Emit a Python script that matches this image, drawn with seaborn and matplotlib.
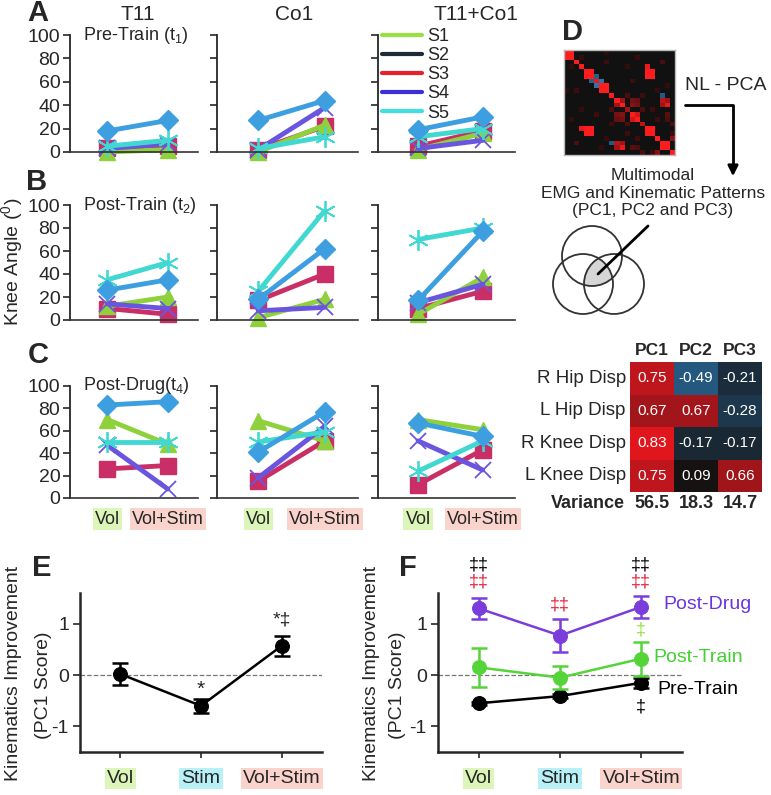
import numpy as np
import pandas as pd
import matplotlib
matplotlib.use('Agg')
import matplotlib.pyplot as plt
import seaborn as sns
from matplotlib.colors import LinearSegmentedColormap
from matplotlib.lines import Line2D
from matplotlib.patches import Circle

sns.set_style('ticks')
plt.rcParams['font.family'] = ['Liberation Sans', 'DejaVu Sans']
plt.rcParams['mathtext.default'] = 'regular'

W, H = 771, 795

subjects = ['S1', 'S2', 'S3', 'S4', 'S5']
sites = ['T11', 'Co1', 'T11+Co1']
conditions = ['Vol', 'Vol+Stim']
conditions3 = ['Vol', 'Stim', 'Vol+Stim']

# knee angle (deg); rows S1..S5, columns Vol / Vol+Stim
pre_t11 = [[0, 2], [18, 27], [3, 5], [3, 7], [5, 10]]
pre_co1 = [[0, 23], [27, 44], [2, 22], [2, 38], [3, 13]]
pre_both = [[2, 16], [19, 30], [5, 18], [3, 10], [13, 20]]
post_t11 = [[12, 20], [26, 35], [10, 5], [14, 10], [35, 50]]
post_co1 = [[2, 18], [18, 62], [17, 40], [8, 11], [25, 95]]
post_both = [[5, 37], [17, 77], [10, 25], [15, 31], [70, 80]]
drug_t11 = [[70, 48], [83, 86], [26, 29], [47, 8], [50, 50]]
drug_co1 = [[69, 51], [41, 77], [15, 51], [18, 64], [50, 59]]
drug_both = [[70, 61], [67, 55], [12, 43], [51, 25], [24, 51]]

# PC1 scores (panel E)
e_mean = [0.02, -0.60, 0.57]
e_err = [0.21, 0.13, 0.20]
# PC1 scores (panel F)
drug_mean = [1.30, 0.77, 1.33]
drug_err = [0.20, 0.32, 0.22]
train_mean = [0.15, -0.05, 0.32]
train_err = [0.38, 0.23, 0.33]
pretr_mean = [-0.55, -0.41, -0.15]
pretr_err = [0.03, 0.04, 0.10]

# PCA loadings table
joints = ['R Hip Disp', 'L Hip Disp', 'R Knee Disp', 'L Knee Disp']
pcs = ['PC1', 'PC2', 'PC3']
loadings = [[0.75, -0.49, -0.21],
            [0.67, 0.67, -0.28],
            [0.83, -0.17, -0.17],
            [0.75, 0.09, 0.66]]
variance = [56.5, 18.3, 14.7]

# correlation matrix thumbnail (22 x 22): diagonal + symmetric pairs
corr_diag = [1, 1, 1, 1, 1, 1, 0.9, 1, 1, 1, 1, 1, 0.6, 1, 1, 0.7, 1, 1, 1, 1, 1, 1]
corr_pairs = [(0, 1, 1.0), (4, 5, 1.0), (7, 8, 1.0), (16, 17, 1.0), (19, 20, 1.0),
              (4, 16, 1.0), (4, 17, 1.0), (5, 16, 1.0), (5, 17, 1.0), (3, 16, 0.9),
              (5, 6, -0.45), (6, 7, -0.6), (9, 19, -0.4), (10, 11, 0.6), (13, 14, 0.8),
              (10, 13, 0.45), (10, 14, 0.4), (11, 13, 0.5), (11, 14, 0.45),
              (10, 19, 0.7), (10, 20, 0.6), (11, 19, 0.6), (11, 20, 0.9),
              (13, 20, 0.35), (14, 20, 0.3), (12, 15, 0.3), (2, 8, 0.25), (3, 12, 0.2),
              (9, 15, 0.25), (1, 14, 0.2), (12, 17, 0.25), (0, 8, 0.15), (15, 21, 0.3),
              (6, 13, 0.25), (7, 20, 0.2), (2, 19, 0.3), (8, 18, 0.2), (14, 18, 0.25),
              (18, 21, 0.5), (9, 12, 0.3), (1, 3, 0.2), (17, 21, 0.25)]

subj_colors = ['#8fd13c', '#3d9ee0', '#c92f66', '#6a55e0', '#42d8d2']
legend_colors = ['#99e044', '#1e2a38', '#e8202c', '#3a2fd8', '#3fe0e0']
subj_markers = ['^', 'D', 's', 'x', (6, 2, 0)]
subj_ms = [11, 10, 11, 11, 15]
draw_order = [2, 0, 3, 4, 1]

fig = plt.figure(figsize=(W / 100, H / 100), dpi=100)


def px_axes(x0, y0, x1, y1):
    return fig.add_axes([x0 / W, 1 - y1 / H, (x1 - x0) / W, (y1 - y0) / H])


# overlay for panel D drawing and free text
axO = px_axes(0, 0, W, H)
axO.set_xlim(0, W)
axO.set_ylim(H, 0)
axO.axis('off')

sessions = [(pre_t11, pre_co1, pre_both),
            (post_t11, post_co1, post_both),
            (drug_t11, drug_co1, drug_both)]
row_px = [(35, 152), (205, 320), (386, 498)]
col_px = [(70, 198), (217, 358), (378, 515)]
tag_text = ['Pre-Train (t$_1$)', 'Post-Train (t$_2$)', 'Post-Drug(t$_4$)']
cond_bg = {'Vol': '#dcf5b8', 'Stim': '#b8f0f8', 'Vol+Stim': '#fad4cc'}

for r, (sess, (y0, y1)) in enumerate(zip(sessions, row_px)):
    for c, (data, (x0, x1)) in enumerate(zip(sess, col_px)):
        ax = px_axes(x0, y0, x1, y1)
        ax.patch.set_alpha(0)
        for k in draw_order:
            filled = subj_markers[k] != 'x' and not isinstance(subj_markers[k], tuple)
            sns.lineplot(x=[0, 1], y=data[k], ax=ax, color=subj_colors[k],
                         marker=subj_markers[k], markersize=subj_ms[k],
                         markeredgecolor=subj_colors[k],
                         markeredgewidth=1.0 if filled else 1.3,
                         linewidth=3.5, clip_on=False)
        ax.set_xlim(-0.62, 1.5)
        ax.set_ylim(0, 100)
        ax.set_yticks(range(0, 101, 20))
        ax.set_xlabel('')
        ax.set_ylabel('')
        ax.spines[['top', 'right']].set_visible(False)
        ax.spines['left'].set_linewidth(1.3)
        ax.spines['bottom'].set_linewidth(1.2)
        ax.spines['bottom'].set_color('#333333')
        ax.tick_params(axis='y', length=5, width=1.2, labelsize=14, pad=2)
        if c > 0:
            ax.set_yticklabels([])
        if r == 2:
            ax.set_xticks([0, 1])
            ax.set_xticklabels(conditions, fontsize=13)
            ax.tick_params(axis='x', length=0, pad=9)
            for t in ax.get_xticklabels():
                t.set_bbox(dict(facecolor=cond_bg[t.get_text()], edgecolor='none', pad=1.5))
        else:
            ax.set_xticks([])
        if c == 0:
            ax.text(0.1, 1.0, tag_text[r], transform=ax.transAxes, fontsize=13,
                    ha='left', va='center')

# legend in the T11+Co1 column
handles = [Line2D([0], [0], color=col, lw=3) for col in legend_colors]
fig.legend(handles, subjects, loc='upper left', bbox_to_anchor=(382 / W, 1 - 28 / H),
           frameon=False, fontsize=13, handlelength=2.2, handletextpad=0.3,
           labelspacing=0.12, borderpad=0, borderaxespad=0)

for name, x in zip(sites, [138, 294, 476]):
    axO.text(x, 15, name, fontsize=15, ha='center', va='center')
axO.text(12, 262, 'Knee Angle ($^0$)', rotation=90, fontsize=14, ha='center', va='center')

for lab, (x, y) in zip('ABCDEF', [(38, 13), (37, 182), (38, 355), (573, 32), (42, 568), (408, 568)]):
    axO.text(x, y, lab, fontsize=21, fontweight='bold', ha='center', va='center')

# y labels of panels E and F
for x_main, x_sub in [(14, 44), (372, 397)]:
    axO.text(x_main, 673, 'Kinematics Improvement', rotation=90, fontsize=14,
             ha='center', va='center')
    axO.text(x_sub, 685, '(PC1 Score)', rotation=90, fontsize=14,
             ha='center', va='center')

# panel D: correlation thumbnail
corr = np.diag(np.array(corr_diag, dtype=float))
for i, j, v in corr_pairs:
    corr[i, j] = v
    corr[j, i] = v
corr_cmap = LinearSegmentedColormap.from_list(
    'corr', [(0.0, '#4aa8f0'), (0.3, '#24587f'), (0.5, '#111111'),
             (0.62, '#3a0c0c'), (0.8, '#a01418'), (1.0, '#ff1c1c')])
axM = px_axes(564, 50, 675, 155)
sns.heatmap(corr, ax=axM, cmap=corr_cmap, vmin=-1, vmax=1, cbar=False,
            xticklabels=False, yticklabels=False)
for s in axM.spines.values():
    s.set_visible(True)
    s.set_color('#bbbbbb')
    s.set_linewidth(1)

axO.text(685, 86, 'NL - PCA', fontsize=14, ha='left', va='center')
axO.plot([685, 733, 733], [105, 105, 168], color='k', lw=2)
axO.annotate('', xy=(733, 179), xytext=(733, 164),
             arrowprops=dict(arrowstyle='-|>', color='k', lw=2, mutation_scale=15))
axO.text(653, 193, 'Multimodal\nEMG and Kinematic Patterns\n(PC1, PC2 and PC3)',
         fontsize=12.5, ha='center', va='center', linespacing=1.25)

# Venn sketch
centres = [(592, 256), (583, 284), (614, 284)]
rad = 30
gx, gy = np.meshgrid(np.linspace(540, 660, 300), np.linspace(220, 330, 300))
inside = np.ones_like(gx, dtype=bool)
for cx, cy in centres:
    inside &= (gx - cx) ** 2 + (gy - cy) ** 2 <= rad ** 2
axO.contourf(gx, gy, inside.astype(float), levels=[0.5, 1.5], colors=['#d6d6d6'])
for cx, cy in centres:
    axO.add_patch(Circle((cx, cy), rad, fill=False, ec='#333333', lw=1.3))
axO.plot([598, 648], [274, 226], color='k', lw=2)
axO.set_xlim(0, W)
axO.set_ylim(H, 0)

# PCA loadings table
load_cmap = LinearSegmentedColormap.from_list(
    'load', [(0.0, '#3a9ee0'), (0.25, '#245a80'), (0.4, '#1b2c3a'), (0.5, '#141414'),
             (0.55, '#171212'), (0.8, '#8c1418'), (0.875, '#bb161c'),
             (0.915, '#e0161c'), (1.0, '#ff2020')])
axT = px_axes(630, 362, 762, 492)
sns.heatmap(pd.DataFrame(loadings, index=joints, columns=pcs), ax=axT, cmap=load_cmap,
            vmin=-1, vmax=1, cbar=False, annot=True, fmt='.2f',
            annot_kws={'color': 'white', 'fontsize': 11})
axT.xaxis.tick_top()
axT.tick_params(length=0, pad=3)
axT.set_xticklabels(pcs, fontsize=12.5, fontweight='bold')
axT.set_yticklabels(joints, fontsize=13.5, rotation=0)
axT.text(-0.12, 4.35, 'Variance', fontsize=13, fontweight='bold', ha='right', va='center')
for j, v in enumerate(variance):
    axT.text(j + 0.5, 4.35, f'{v:.1f}', fontsize=13, fontweight='bold', ha='center', va='center')

# panels E and F
pos = [0, 1, 2]


def style_score_axes(ax):
    ax.set_xlim(-0.5, 2.5)
    ax.set_ylim(-1.5, 1.6)
    ax.set_yticks([-1, 0, 1])
    ax.set_yticklabels(['-1', '0', '1'], fontsize=14)
    ax.set_xticks(pos)
    ax.set_xticklabels(conditions3, fontsize=14)
    ax.tick_params(axis='x', length=4, width=1.2, pad=9)
    ax.tick_params(axis='y', length=5, width=1.2, pad=3)
    for t in ax.get_xticklabels():
        t.set_bbox(dict(facecolor=cond_bg[t.get_text()], edgecolor='none', pad=1.5))
    ax.spines[['top', 'right']].set_visible(False)
    ax.spines['left'].set_linewidth(1.8)
    ax.spines['bottom'].set_linewidth(1.8)
    ax.axhline(0, color='#777777', lw=0.9, ls='--', zorder=0)
    ax.set_xlabel('')
    ax.set_ylabel('')


def score_series(ax, mean, err, color):
    sns.lineplot(x=pos, y=mean, ax=ax, color=color, marker='o', markersize=10,
                 markeredgecolor=color, linewidth=1.8, clip_on=False)
    ax.errorbar(pos, mean, yerr=err, fmt='none', ecolor=color, elinewidth=1.8,
                capsize=6, capthick=1.8, clip_on=False)


axE = px_axes(80, 593, 322, 752)
axE.patch.set_alpha(0)
score_series(axE, e_mean, e_err, 'black')
style_score_axes(axE)
axE.text(1, -0.27, '*', fontsize=15, ha='center', va='center')
axE.text(2, 1.08, '*‡', fontsize=14, ha='center', va='center')

axF = px_axes(438, 593, 682, 752)
axF.patch.set_alpha(0)
purple, green, red = '#7a3ddc', '#55d43a', '#e8203c'
score_series(axF, pretr_mean, pretr_err, 'black')
score_series(axF, train_mean, train_err, green)
score_series(axF, drug_mean, drug_err, purple)
style_score_axes(axF)
axF.text(2.27, 1.37, 'Post-Drug', color='#6a35e0', fontsize=14, va='center')
axF.text(2.15, 0.35, 'Post-Train', color='#44d030', fontsize=14, va='center')
axF.text(2.2, -0.29, 'Pre-Train', color='black', fontsize=14, va='center')
for x in (0, 2):
    axF.text(x, 2.15, '‡‡', fontsize=13, ha='center', va='center', color='black')
    axF.text(x, 1.82, '‡‡', fontsize=13, ha='center', va='center', color=red)
axF.text(1, 1.37, '‡‡', fontsize=13, ha='center', va='center', color=red)
axF.text(2, 0.88, '‡', fontsize=13, ha='center', va='center', color='#9be040')
axF.text(2, -0.62, '‡', fontsize=13, ha='center', va='center', color='black')

fig.savefig('out.png', dpi=100)
